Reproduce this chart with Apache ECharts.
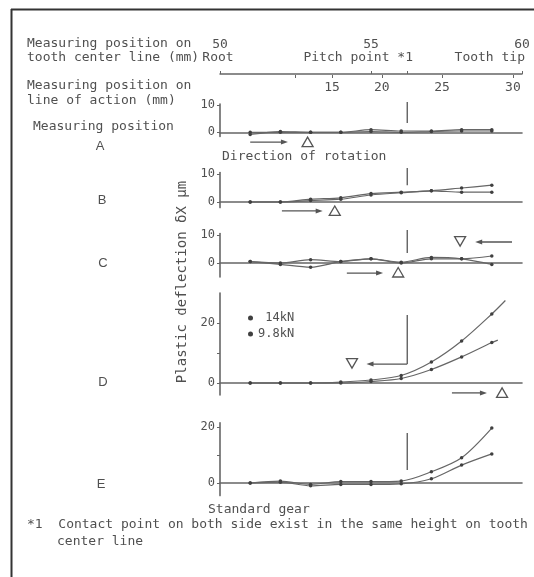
<!DOCTYPE html>
<html><head><meta charset="utf-8">
<script src="https://cdn.jsdelivr.net/npm/echarts@6/dist/echarts.min.js"></script>
<style>html,body{margin:0;padding:0;background:#fff}#c{width:534px;height:577px}</style>
</head><body><div id="c"></div>
<script>
// Measuring positions on tooth center line (mm)
const positions = [51, 52, 53, 54, 55, 56, 57, 58, 59];
// Plastic deflection (um) per measuring position, loads 14kN and 9.8kN
const A_14 = [-0.8, 0.3, 0, 0, 1, 0.5, 0.5, 1, 1];
const A_98 = [0, 0, 0, 0, 0.3, 0, 0.3, 0.5, 0.5];
const B_14 = [0, 0, 1, 1.5, 3, 3.5, 4, 5, 6];
const B_98 = [0, 0, 0.5, 1, 2.5, 3.3, 4, 3.5, 3.5];
const C_14 = [0.5, -0.5, -1.5, 0.5, 1.5, 0.3, 2, 1.5, -0.5];
const C_98 = [0.5, 0, 1.2, 0.5, 1.5, 0, 1.5, 1.5, 2.5];
const D_14 = [0, 0, 0, 0.3, 1, 2.5, 7, 14, 23];
const D_98 = [0, 0, 0, 0, 0.5, 1.5, 4.5, 8.7, 13.5];
const D_14_tail = [59.45, 27.5];
const D_98_tail = [59.2, 14.3];
const E_14 = [0, 0.7, -0.5, 0.5, 0.5, 0.7, 4, 9, 19.6];
const E_98 = [0, 0.3, -1, -0.5, -0.5, -0.3, 1.5, 6.4, 10.4];

// Top scales
const centerLabelPos = [50, 55, 60];
const centerLabels = ['50', '55', '60'];
const centerTickPos = [50, 55, 56.2, 60];
const actionTickPos = [52.48, 53.71, 55.36, 57.35, 59.70];
const actionTickLabels = ['', '15', '20', '25', '30'];
const pitchPoint = 56.2;

// Panel y ticks
const yTicksSmall = [0, 10];
const yTicksBig = [0, 10, 20];
const yLabelsSmall = [0, 10];
const yLabelsBig = [0, 20];

// Annotations (data units): contact line spans, arrows, triangles
const contactSpans = [[11.2, 3.5], [12.1, 6.0], [11.8, 3.6], [22.7, 6.3], [17.9, 4.6]];
const arrows = [
  [0, 51.0, 52.25, -3.6],
  [1, 52.05, 53.4, -3.2],
  [2, 54.2, 55.4, -3.6],
  [2, 59.67, 58.45, 7.5],
  [3, 56.2, 54.85, 6.3],
  [3, 57.68, 58.84, -3.3]
];
const triangles = [
  [0, 52.9, -3.6, 'up'],
  [1, 53.8, -3.2, 'up'],
  [2, 55.9, -3.4, 'up'],
  [2, 57.95, 7.8, 'down'],
  [3, 54.37, 6.6, 'down'],
  [3, 59.34, -3.3, 'up']
];

const MONO = '"DejaVu Sans Mono","Liberation Mono",monospace';
const SANS = '"Liberation Sans","DejaVu Sans",sans-serif';
const TXT = '#505050';
const LINE = '#666';

const panels = [
  {s14: A_14, s98: A_98, min: -1.5, max: 10.5, top: 104, height: 32.4, ticks: yTicksSmall, labels: yLabelsSmall},
  {s14: B_14, s98: B_98, min: -2, max: 10.5, top: 172.6, height: 35, ticks: yTicksSmall, labels: yLabelsSmall},
  {s14: C_14, s98: C_98, min: -5, max: 10.5, top: 233.6, height: 43.4, ticks: yTicksSmall, labels: yLabelsSmall},
  {s14: D_14, s98: D_98, min: -4, max: 30, top: 293, height: 102, ticks: yTicksBig, labels: yLabelsBig, t14: D_14_tail, t98: D_98_tail},
  {s14: E_14, s98: E_98, min: -4.5, max: 21.5, top: 422.8, height: 72.8, ticks: yTicksBig, labels: yLabelsBig}
];

function lookup(arrPos, arrLab, v) {
  for (let i = 0; i < arrPos.length; i++) if (Math.abs(arrPos[i] - v) < 1e-6) return arrLab[i];
  return '';
}

const grid = [{left: 220, width: 302, top: 74, height: 1}].concat(
  panels.map(p => ({left: 220, width: 302, top: p.top, height: p.height})));

const xAxis = [
  {gridIndex: 0, type: 'value', position: 'top', min: 50, max: 60,
   axisLine: {show: true, onZero: false, lineStyle: {color: LINE, width: 1.5}},
   axisTick: {show: true, length: 3, customValues: centerTickPos, lineStyle: {color: LINE}},
   axisLabel: {customValues: centerLabelPos, formatter: v => lookup(centerLabelPos, centerLabels, v),
               margin: 23, color: TXT, fontFamily: MONO, fontSize: 13},
   splitLine: {show: false}},
  {gridIndex: 0, type: 'value', position: 'bottom', min: 50, max: 60,
   axisLine: {show: false, onZero: false},
   axisTick: {show: true, length: 3, customValues: actionTickPos, lineStyle: {color: LINE}},
   axisLabel: {customValues: actionTickPos, formatter: v => lookup(actionTickPos, actionTickLabels, v),
               margin: 6, color: TXT, fontFamily: MONO, fontSize: 13},
   splitLine: {show: false}}
].concat(panels.map((p, i) => ({
  gridIndex: i + 1, type: 'value', min: 50, max: 60,
  axisLine: {show: true, onZero: true, lineStyle: {color: LINE, width: 1.6}},
  axisTick: {show: false}, axisLabel: {show: false}, splitLine: {show: false}
})));

const yAxis = [{gridIndex: 0, show: false, min: 0, max: 1}].concat(panels.map((p, i) => ({
  gridIndex: i + 1, type: 'value', min: p.min, max: p.max,
  axisLine: {show: true, onZero: false, lineStyle: {color: LINE, width: 1.6}},
  axisTick: {show: true, length: 3, customValues: p.ticks, lineStyle: {color: LINE}},
  axisLabel: {customValues: p.labels, color: TXT, fontFamily: MONO, fontSize: 12, margin: 5},
  splitLine: {show: false}
})));

const series = [];
panels.forEach((p, i) => {
  [['14kN', p.s14, p.t14], ['9.8kN', p.s98, p.t98]].forEach(([name, vals, tail]) => {
    const data = positions.map((x, k) => [x, vals[k]]);
    if (tail) data.push({value: tail, symbol: 'none'});
    series.push({
      name, type: 'line', xAxisIndex: i + 2, yAxisIndex: i + 1, data,
      smooth: 0.3, symbol: 'circle', symbolSize: 3.5, showSymbol: true,
      lineStyle: {color: LINE, width: 1.2}, itemStyle: {color: '#404040'},
      clip: false, animation: false, z: 3
    });
  });
});

const chart = echarts.init(document.getElementById('c'));
chart.setOption({
  backgroundColor: '#fff',
  animation: false,
  grid, xAxis, yAxis, series,
  legend: {
    data: ['14kN', '9.8kN'], orient: 'vertical', left: 243, top: 307,
    icon: 'circle', itemWidth: 5, itemHeight: 5, itemGap: 4,
    formatter: n => (n === '14kN' ? ' 14kN' : '9.8kN'),
    textStyle: {color: TXT, fontFamily: MONO, fontSize: 12}, selectedMode: false
  }
});

// Annotations computed through the chart's own scales
const g = [];
function px(panel, x, y) { return chart.convertToPixel({gridIndex: panel + 1}, [x, y]); }
const stroke = {stroke: '#555', lineWidth: 1.3};
contactSpans.forEach((s, i) => {
  const a = px(i, pitchPoint, s[0]), b = px(i, pitchPoint, s[1]);
  g.push({type: 'line', shape: {x1: a[0], y1: a[1], x2: b[0], y2: b[1]}, style: stroke, z: 10});
});
arrows.forEach(([p, x1, x2, y]) => {
  const a = px(p, x1, y), b = px(p, x2, y);
  const d = b[0] > a[0] ? 1 : -1;
  g.push({type: 'line', shape: {x1: a[0], y1: a[1], x2: b[0] - d * 5, y2: b[1]}, style: stroke, z: 10});
  g.push({type: 'polygon', shape: {points: [[b[0], b[1]], [b[0] - d * 7, b[1] - 2.5], [b[0] - d * 7, b[1] + 2.5]]},
          style: {fill: '#555'}, z: 10});
});
triangles.forEach(([p, x, y, dir]) => {
  const c = px(p, x, y);
  const s = dir === 'up' ? 1 : -1;
  g.push({type: 'polygon', shape: {points: [[c[0], c[1] - s * 5], [c[0] - 5.5, c[1] + s * 4.5], [c[0] + 5.5, c[1] + s * 4.5]]},
          style: {fill: '#fff', stroke: '#555', lineWidth: 1.3}, z: 10});
});

function txt(text, x, y, opts) {
  opts = opts || {};
  return {type: 'text', x, y, rotation: opts.rot || 0, z: 10,
    style: {text, font: (opts.size || 13) + 'px ' + (opts.font || MONO), fill: TXT,
            textAlign: opts.align || 'left', textVerticalAlign: 'middle'}};
}
// border
g.push({type: 'line', shape: {x1: 11.5, y1: 9, x2: 11.5, y2: 577}, style: {stroke: '#333', lineWidth: 2}});
g.push({type: 'line', shape: {x1: 11, y1: 9.5, x2: 534, y2: 9.5}, style: {stroke: '#333', lineWidth: 2}});
g.push(txt('Measuring position on', 27, 44));
g.push(txt('tooth center line (mm)', 27, 58));
g.push(txt('Root', 218, 58, {align: 'center'}));
g.push(txt('Pitch point *1', 413, 58, {align: 'right'}));
g.push(txt('Tooth tip', 525, 58, {align: 'right'}));
g.push(txt('Measuring position on', 27, 86));
g.push(txt('line of action (mm)', 27, 101));
g.push(txt('Measuring position', 33, 127));
g.push(txt('Direction of rotation', 222, 157));
g.push(txt('Standard gear', 208, 510));
g.push(txt('*1  Contact point on both side exist in the same height on tooth', 27, 525));
g.push(txt('center line', 57, 542));
[['A', 100, 146], ['B', 102, 200], ['C', 103, 263], ['D', 103, 382], ['E', 101, 484]].forEach(([t, x, y]) =>
  g.push(txt(t, x, y, {align: 'center', font: SANS, size: 13})));
g.push(txt('Plastic deflection \u03b4X \u03bcm', 182, 282, {align: 'center', rot: Math.PI / 2, size: 14}));

chart.setOption({graphic: g});
</script></body></html>
